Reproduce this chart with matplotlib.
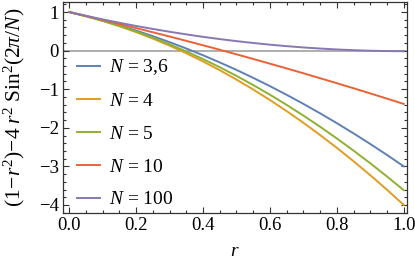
import matplotlib
matplotlib.use("Agg")
import matplotlib.pyplot as plt
from matplotlib.ticker import MultipleLocator, FormatStrFormatter

plt.rcParams['font.family'] = ['Liberation Serif', 'DejaVu Serif']
plt.rcParams['mathtext.fontset'] = 'custom'
plt.rcParams['mathtext.rm'] = 'Liberation Serif'
plt.rcParams['mathtext.it'] = 'Liberation Serif:italic'

# values at r = 0, 0.05, ..., 1.0
r = [0.0, 0.05, 0.1, 0.15, 0.2, 0.25, 0.3, 0.35, 0.4, 0.45, 0.5,
     0.55, 0.6, 0.65, 0.7, 0.75, 0.8, 0.85, 0.9, 0.95, 1.0]
n_36 = [1.0, 0.895, 0.78, 0.655, 0.52, 0.375, 0.22, 0.055, -0.12, -0.305, -0.5,
        -0.705, -0.92, -1.145, -1.38, -1.625, -1.88, -2.145, -2.42, -2.705, -3.0]
n_4 = [1.0, 0.8925, 0.77, 0.6325, 0.48, 0.3125, 0.13, -0.0675, -0.28, -0.5075, -0.75,
       -1.0075, -1.28, -1.5675, -1.87, -2.1875, -2.52, -2.8675, -3.23, -3.6075, -4.0]
n_5 = [1.0, 0.893, 0.774, 0.641, 0.495, 0.336, 0.164, -0.021, -0.219, -0.43, -0.655,
       -0.892, -1.142, -1.406, -1.683, -1.973, -2.276, -2.592, -2.921, -3.263, -3.618]
n_10 = [1.0, 0.899, 0.796, 0.691, 0.585, 0.476, 0.366, 0.253, 0.139, 0.023, -0.096,
        -0.216, -0.338, -0.461, -0.587, -0.715, -0.845, -0.976, -1.109, -1.245, -1.382]
n_100 = [1.0, 0.902, 0.81, 0.722, 0.639, 0.562, 0.489, 0.421, 0.357, 0.299, 0.246,
         0.198, 0.154, 0.116, 0.082, 0.054, 0.03, 0.011, -0.003, -0.012, -0.016]

labels = [r'$N$ = 3,6', r'$N$ = 4', r'$N$ = 5', r'$N$ = 10', r'$N$ = 100']
colors = ['#5E81B5', '#E19C24', '#8FB032', '#EB6235', '#8778B3']

fig = plt.figure(figsize=(4.15, 2.68), dpi=100)
ax = fig.add_axes([0.152, 0.205, 0.829, 0.789])

ax.axhline(0, color='#999999', lw=1.1, zorder=1)
for ys, c, lab in zip([n_36, n_4, n_5, n_10, n_100], colors, labels):
    ax.plot(r, ys, color=c, lw=1.4, label=lab, zorder=2)

ax.set_xlim(-0.018, 1.01)
ax.set_ylim(-4.21, 1.27)
ax.xaxis.set_major_locator(MultipleLocator(0.2))
ax.xaxis.set_minor_locator(MultipleLocator(0.05))
ax.yaxis.set_major_locator(MultipleLocator(1))
ax.yaxis.set_minor_locator(MultipleLocator(0.2))
ax.xaxis.set_major_formatter(FormatStrFormatter('%.1f'))
ax.tick_params(which='both', direction='in', top=True, right=True,
               labelsize=13.5, pad=3, width=0.8, color='#333333')
ax.tick_params(which='major', length=4.5)
ax.tick_params(which='minor', length=2.5)
for s in ax.spines.values():
    s.set_linewidth(0.9)
    s.set_color('#333333')

ax.set_xlabel(r'$r$', fontsize=14, labelpad=6)
ax.set_ylabel(r'$(1\!-\!r^2)\!-\!4\;r^2\;\mathrm{Sin}^2(2\pi/N)$', fontsize=15.5)
ax.yaxis.set_label_coords(-0.105, 0.5)

ax.legend(loc='upper left', bbox_to_anchor=(0.0, 0.80), frameon=False,
          fontsize=14, handlelength=1.2, handletextpad=0.45, labelspacing=0.78,
          borderaxespad=0.3, handleheight=0.7)

fig.savefig('out.png', dpi=100)
